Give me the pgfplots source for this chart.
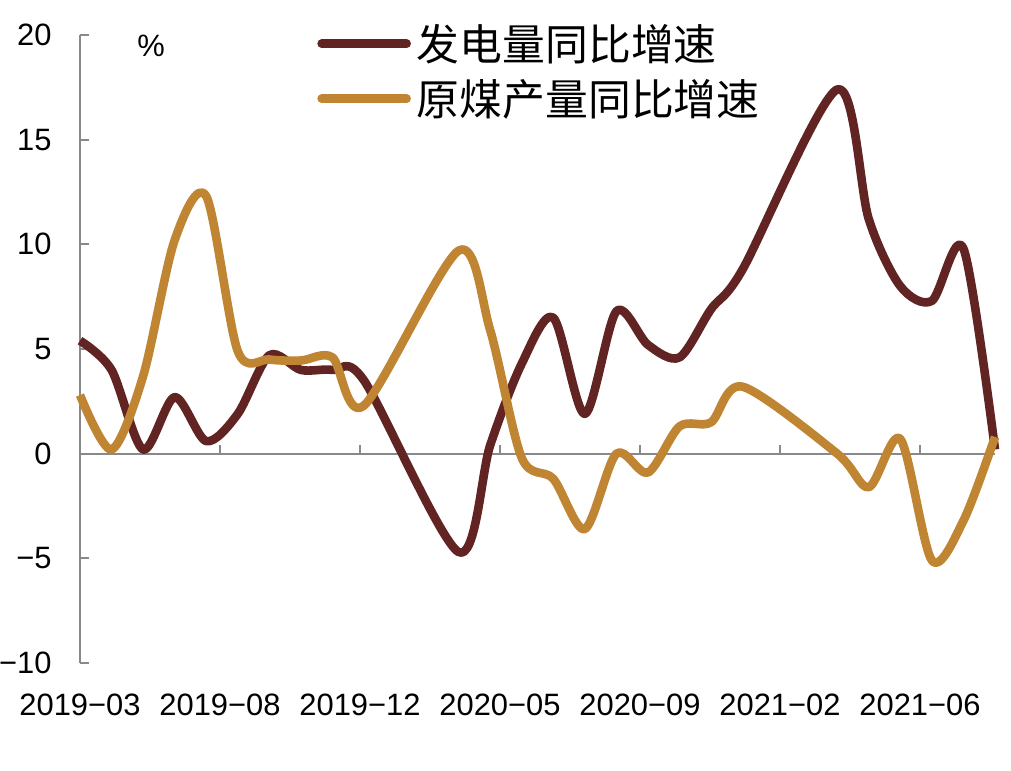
\documentclass[border=0pt]{standalone}
\usepackage{fontspec}
\setmainfont{Liberation Sans}
\newfontfamily\cjk{Noto Sans CJK SC}
\usepackage{pgfplots}
\pgfplotsset{compat=1.18}
\definecolor{cbrown}{HTML}{622423}
\definecolor{cgold}{HTML}{C08532}
\definecolor{caxis}{HTML}{898989}
\begin{document}
\begin{tikzpicture}
\path[use as bounding box] (-40bp,-54bp) rectangle (465.5bp,331.5bp);
\begin{axis}[
  at={(0,0)}, anchor=south west,
  scale only axis, width=457.5bp, height=314bp,
  xmin=0, xmax=29, ymin=-10, ymax=20,
  axis lines=left,
  axis line style={-, caxis, line width=1bp},
  x axis line style={draw=none},
  xtick={0,4.437,8.874,13.311,17.748,22.185,26.622},
  xticklabels={2019−03,2019−08,2019−12,2020−05,2020−09,2021−02,2021−06},
  ytick={-10,-5,0,5,10,15,20},
  yticklabels={−10,−5,0,5,10,15,20},
  tick align=inside,
  major tick length=4.5bp,
  y tick style={caxis, line width=1bp},
  x tick style={draw=none},
  tick label style={font=\fontsize{15.5}{18}\selectfont, text=black},
  yticklabel style={anchor=east, inner sep=0pt, xshift=-14bp},
  xticklabel style={anchor=base, inner sep=0pt, yshift=-26bp},
  clip=false,
  legend style={at={(axis cs:7.51,18.27)}, anchor=west, draw=none, fill=none,
    inner sep=0pt, row sep=4bp, column sep=1bp,
    font=\fontsize{21.5}{26}\selectfont\cjk,
    cells={anchor=west}},
  legend image code/.code={\draw[#1, line cap=round] (0bp,0bp) -- (42.5bp,0bp);},
]
\draw[caxis, line width=1bp] (axis cs:0,0) -- (axis cs:29,0);
\pgfplotsinvokeforeach{4.437,8.874,13.311,17.748,22.185,26.622}{
  \draw[caxis, line width=1bp] (axis cs:#1,0) -- ([yshift=4.5bp]axis cs:#1,0);
}
\addplot[cbrown, line width=4.3bp, smooth, tension=0.5, line join=round] coordinates {
(0,5.4) (1,4.0) (2,0.2) (3,2.7) (4,0.6) (5,1.9) (6,4.7) (7,4.0) (8,4.0) (9,3.5)
(12,-4.7) (13,0.4) (14,4.3) (15,6.5) (16,1.9) (17,6.8) (18,5.2) (19,4.6) (20,6.9) (21,8.8)
(24,17.4) (25,11.2) (26,8.0) (27,7.3) (28,9.8) (29,0.2)
};
\addlegendentry{发电量同比增速}
\addplot[cgold, line width=4.3bp, smooth, tension=0.5, line join=round] coordinates {
(0,2.8) (1,0.2) (2,3.7) (3,10.2) (4,12.3) (5,4.9) (6,4.5) (7,4.45) (8,4.6) (9,2.3)
(12,9.7) (13,5.9) (14,-0.2) (15,-1.2) (16,-3.6) (17,0.0) (18,-0.9) (19,1.3) (20,1.5) (21,3.2)
(24,0.0) (25,-1.6) (26,0.7) (27,-5.1) (28,-3.2) (29,0.8)
};
\addlegendentry{原煤产量同比增速}
\node[font=\fontsize{15.5}{18}\selectfont] at (axis cs:2.25,19.5) {\%};
\end{axis}
\end{tikzpicture}
\end{document}
